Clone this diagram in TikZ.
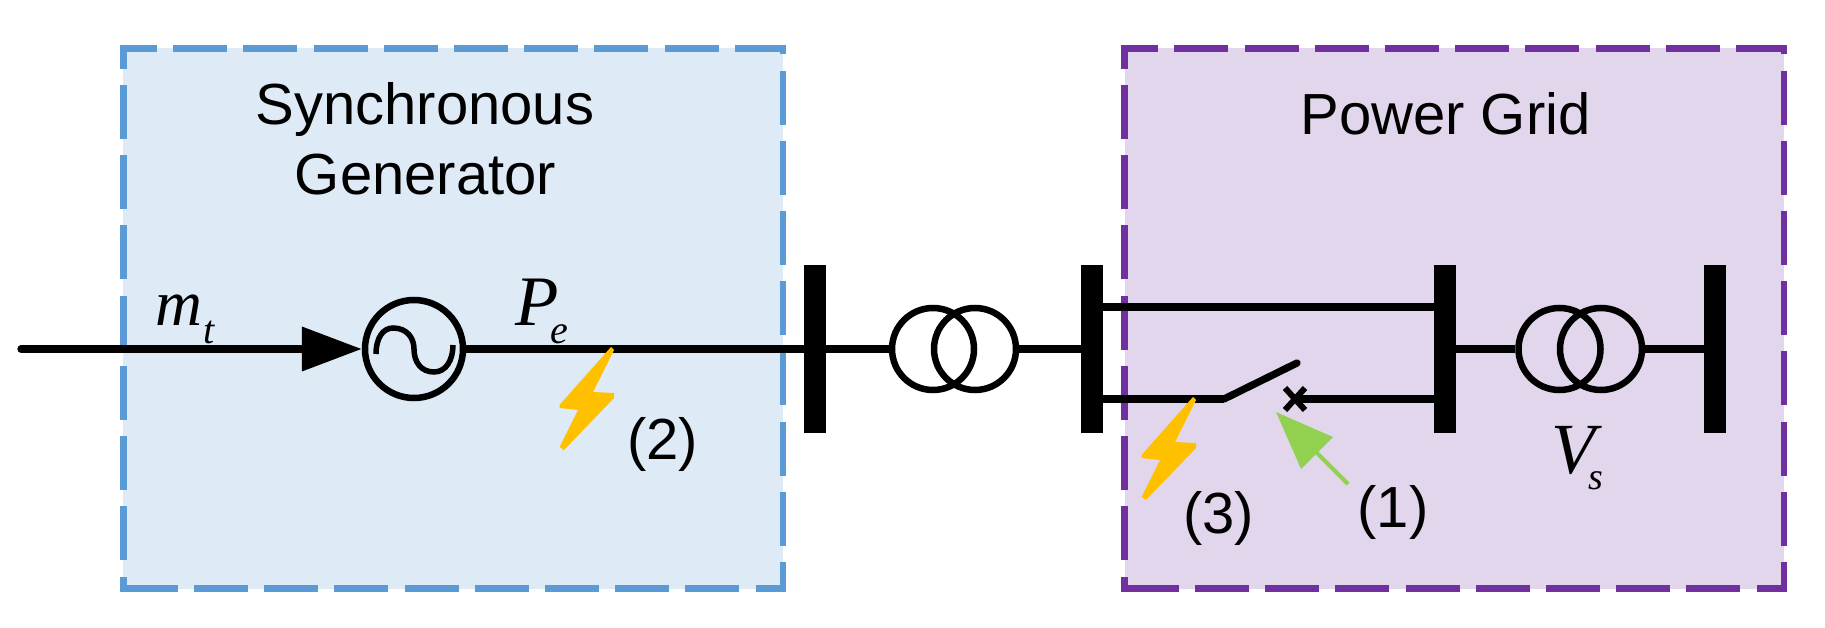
\documentclass[tikz,border=0pt]{standalone}
\usepackage{fontspec}
\setmainfont{Liberation Sans}
\newfontfamily\tim{Liberation Serif}
\usetikzlibrary{arrows.meta}
\definecolor{bluefill}{HTML}{DEEAF6}
\definecolor{blueline}{HTML}{5B9BD5}
\definecolor{purplefill}{HTML}{E2D6EC}
\definecolor{purpleline}{HTML}{7030A0}
\definecolor{bolt}{HTML}{FFC000}
\definecolor{leaf}{HTML}{92D050}
\newcommand{\fs}[1]{\fontsize{#1}{#1}\selectfont}
\newcommand{\regionbox}[3]{%
  \begin{scope}[shift={(#1,0)}]
    \fill[#2] (123.4,48.5) rectangle (783,588.5);
    \draw[region,draw=#3,dash phase=17pt] (120.05,48.5) -- (783,48.5) -- (783,588.5) -- (120.05,588.5);
    \draw[region,draw=#3,dash phase=38.65pt] (123.4,591.85) -- (123.4,45.15);
  \end{scope}}
\tikzset{
  x=1pt,y=-1pt,
  region/.style={line width=6.7pt,dash pattern=on 54pt off 16.2pt},
  bus/.style={rectangle,fill=black,inner sep=0,outer sep=0,minimum width=22pt,minimum height=167pt},
  wire/.style={line width=7.3pt,black},
  winding/.style={circle,draw=black,line width=6.5pt,inner sep=0,outer sep=3.25pt,minimum size=82pt},
  txt/.style={inner sep=0,outer sep=0,anchor=base,font=\fs{58}},
  var/.style={inner sep=0,outer sep=0,anchor=base west,font=\tim\itshape},
  flash/.style={fill=bolt,draw=none},
}
\begin{document}
\begin{tikzpicture}
\useasboundingbox (0,0) rectangle (1825,628);
% regions
\regionbox{0}{bluefill}{blueline}
\regionbox{1001.1}{purplefill}{purpleline}
% titles
\node[txt] (t1) at (425,124.5) {Synchronous};
\node[txt] (t2) at (425.5,195) {Generator};
\node[txt] (t3) at (1445.5,135) {Power Grid};
% elements
\node[bus] (b1) at (815,349) {};
\node[bus] (b2) at (1092,349) {};
\node[bus] (b3) at (1445,349) {};
\node[bus] (b4) at (1715,349) {};
\node[circle,draw=black,line width=6.5pt,inner sep=0,outer sep=3.25pt,minimum size=98pt] (gen) at (414,349) {};
\node[winding] (x1a) at (933,349) {};
\node[winding] (x1b) at (975,349) {};
\node[winding] (x2a) at (1559.5,349) {};
\node[winding] (x2b) at (1601,349) {};
% helper coordinates
\coordinate (in) at (21,349);
\coordinate (up) at (0,307);
\coordinate (lo) at (0,399);
\coordinate (swa) at (1224,399);
\coordinate (swb) at (1297,363);
\coordinate (cross) at (1295,399);
\coordinate (gtip) at (1276,412);
\coordinate (gtail) at (1348,484);
% connectors
\draw[wire,line cap=round] (in) -- (310,349);
\draw[wire,-{Triangle[length=60pt,width=43pt,sep=0pt]}] (300,349) -- (gen.west);
\draw[wire] (gen.east) -- (b1.west);
\draw[wire] (b1.east) -- (x1a.west);
\draw[wire] (x1b.east) -- (b2.west);
\draw[wire] (b2.east |- up) -- (b3.west |- up);
\draw[wire] (b2.east |- lo) -- (swa);
\draw[wire,line cap=round] (swa) -- (swb);
\draw[wire] (cross) -- (b3.west |- lo);
\draw[wire] (b3.east) -- (x2a.west);
\draw[wire] (x2b.east) -- (b4.west);
\draw[line width=6pt] (1285,388) -- (1305,410) (1305,388) -- (1285,410);
% sine
\draw[line width=5.5pt] (376,354) .. controls (376,338) and (383,328) .. (393,328)
  .. controls (407,328) and (414,338) .. (414,349)
  .. controls (414,362) and (421,372) .. (434,372)
  .. controls (446,372) and (453,360) .. (453,345);
% lightning
\fill[flash,shift={(-582,-50)}] (1193,397) -- (1196,400) -- (1175,442) -- (1196,443) -- (1196,448) -- (1146,500) -- (1141.5,497) -- (1160,460) -- (1141.5,458) -- (1141.5,455) -- cycle;
\fill[flash] (1193,397) -- (1196,400) -- (1175,442) -- (1196,443) -- (1196,448) -- (1146,500) -- (1141.5,497) -- (1160,460) -- (1141.5,458) -- (1141.5,455) -- cycle;
% fault arrow
\draw[leaf,line width=4pt,-{Triangle[length=58pt,width=44pt,sep=0pt]}] (gtail) -- (gtip);
% labels
\node[txt] (l2) at (662.5,459) {(2)};
\node[txt] (l3) at (1218.5,533) {(3)};
\node[txt] (l1) at (1393,527) {(1)};
\node[var] (mt) at (155,325) {\fs{65}m\kern2pt\raisebox{-18pt}{\fs{40}t}};
\node[var] (pe) at (515,325) {\fs{71}P\kern-8pt\raisebox{-18pt}{\fs{40}e}};
\node[var] (vs) at (1551,473) {\fs{72}V\kern-7pt\raisebox{-16pt}{\fs{38}s}};
\end{tikzpicture}
\end{document}
